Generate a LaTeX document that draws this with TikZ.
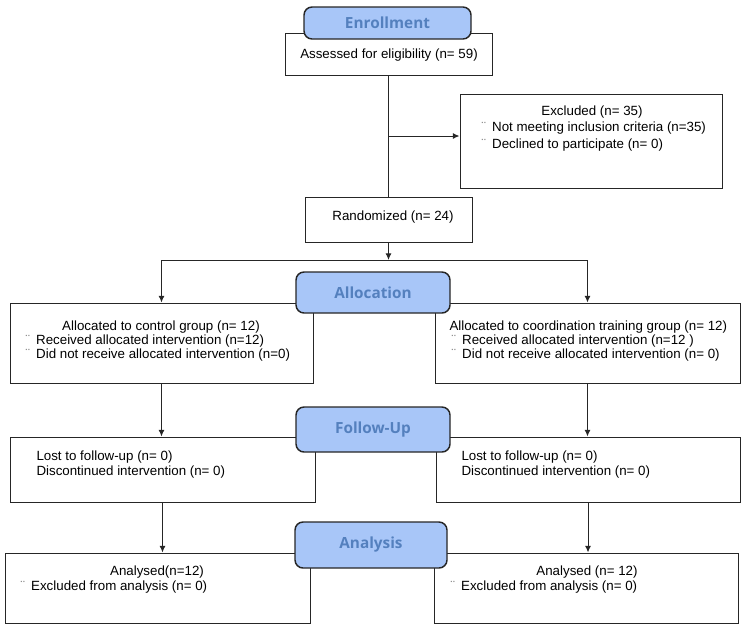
\documentclass[tikz,border=0pt]{standalone}
\usepackage{fontspec}
\setmainfont{Liberation Sans}
\newfontfamily\stagefont{Open Sans}
\usetikzlibrary{fit,calc,arrows.meta}

\definecolor{stagefill}{RGB}{168,198,248}
\definecolor{stagetext}{RGB}{84,128,190}
\definecolor{lineclr}{RGB}{38,38,38}

\newcommand{\mk}{\makebox[8pt][l]{\color{gray}¨}}

\tikzset{every picture/.style={line width=0.75pt}}
\tikzset{
box/.style={draw=lineclr, inner sep=0pt, fit={#1}},
stage/.style={draw=lineclr, line width=1.1pt, fill=stagefill, rounded corners=6pt,
  inner sep=0pt, fit={#1}},
stagetxt/.style={inner sep=0.75pt, text=stagetext, font=\stagefont\bfseries\fontsize{11.5pt}{13pt}\selectfont},
txt/.style={anchor=west, inner sep=0.75pt},
ctxt/.style={inner sep=0.75pt},
link/.style={draw=lineclr, -{Latex[length=5pt,width=4.5pt]}}
}

\begin{document}
\begin{tikzpicture}[x=0.75pt,y=0.75pt,yscale=-1,xscale=1]
\useasboundingbox (0,0) rectangle (750,629);

%Boxes
\node (assess) [box={(285,33) (492,75)}] {};
\node (excl) [box={(460,94) (722,188)}] {};
\node (random) [box={(305,197) (472,242)}] {};
\node (allocL) [box={(10,303) (313,383)}] {};
\node (allocR) [box={(435,303) (740,383)}] {};
\node (followL) [box={(10,437) (315,502)}] {};
\node (followR) [box={(436,437) (740,502)}] {};
\node (anaL) [box={(5,553) (310,623)}] {};
\node (anaR) [box={(434,553) (738,623)}] {};

%Connectors
\coordinate (split) at ($(assess.south)!0.5!(random.north)$);
\coordinate (fork) at (388.5,260);
\draw [draw=lineclr] (assess) -- (random);
\draw [link] (split) -- (split -| excl.west);
\draw [link] (random) -- (fork);
\draw [link] (fork) -| (allocL);
\draw [link] (fork) -| (allocR);
\draw [link] (allocL.south) -- (allocL.south |- followL.north);
\draw [link] (allocR.south) -- (allocR.south |- followR.north);
\draw [link] (followL.south) -- (followL.south |- anaL.north);
\draw [link] (followR.south) -- (followR.south |- anaR.north);

%Stage labels
\node (enroll) [stage={(304,7) (471,39)}] {};
\node (alloc) [stage={(296,272) (450,313)}] {};
\node (follow) [stage={(296,407) (450,452)}] {};
\node (analysis) [stage={(295,522) (447,568)}] {};
\node (enrollT) [stagetxt] at (enroll) {Enrollment};
\node (allocT) [stagetxt] at (alloc) {Allocation};
\node (followT) [stagetxt] at (follow) {Follow-Up};
\node (analysisT) [stagetxt] at (analysis) {Analysis};

% Text Node
\node (assessT) [ctxt] at (389,55) {Assessed for eligibility (n= 59)};
\node (randomT) [ctxt] at (393,217) {Randomized (n= 24)};
% Text Node
\node (exclT) [ctxt] at (592,112) {Excluded (n= 35)};
\node (exclA) [txt] at (480,128) {\mk Not meeting inclusion criteria (n=35)};
\node (exclB) [txt] at (480,145) {\mk Declined to participate (n= 0)};
% Text Node
\node (allocLT) [ctxt] at (161,327) {Allocated to control group (n= 12)};
\node (allocLA) [txt] at (24,341) {\mk Received allocated intervention (n=12)};
\node (allocLB) [txt] at (24,355) {\mk Did not receive allocated intervention (n=0)};
% Text Node
\node (allocRT) [txt] at (448,327) {Allocated to coordination training group (n= 12)};
\node (allocRA) [txt] at (450,341) {\mk Received allocated intervention (n=12 )};
\node (allocRB) [txt] at (450,355) {\mk Did not receive allocated intervention (n= 0)};
% Text Node
\node (followLA) [txt] at (35,457) {Lost to follow-up (n= 0)};
\node (followLB) [txt] at (35,472) {Discontinued intervention (n= 0)};
\node (followRA) [txt] at (460,457) {Lost to follow-up (n= 0)};
\node (followRB) [txt] at (460,472) {Discontinued intervention (n= 0)};
% Text Node
\node (anaLT) [ctxt] at (157,572) {Analysed(n=12)};
\node (anaLA) [txt] at (19,587) {\mk Excluded from analysis (n= 0)};
\node (anaRT) [ctxt] at (587,572) {Analysed (n= 12)};
\node (anaRA) [txt] at (449,587) {\mk Excluded from analysis (n= 0)};

\end{tikzpicture}
\end{document}
